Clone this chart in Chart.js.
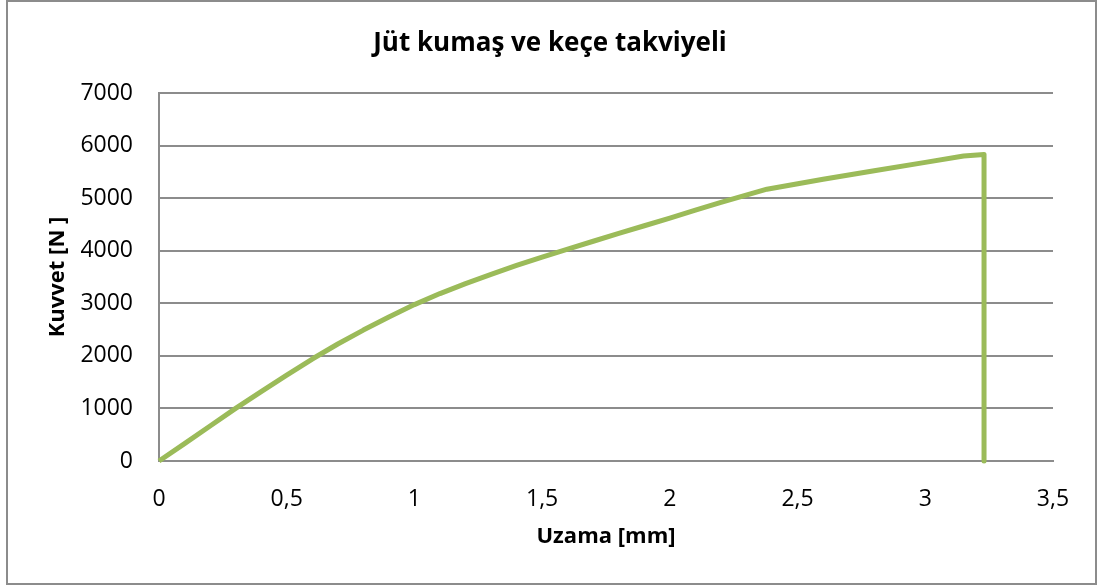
<!DOCTYPE html>
<html>
<head>
<meta charset="utf-8">
<script src="https://cdn.jsdelivr.net/npm/chart.js@4.4.1/dist/chart.umd.min.js"></script>
<style>
html,body{margin:0;padding:0;background:#fff;}
#wrap{position:absolute;left:0;top:0;width:1099px;height:587px;}
</style>
</head>
<body>
<div id="wrap"><canvas id="c" width="1099" height="587"></canvas></div>
<script>
const titleText = 'Jüt kumaş ve keçe takviyeli';
const xAxisTitle = 'Uzama [mm]';
const yAxisTitle = 'Kuvvet [N ]';
const elongation = [0, 0.1, 0.2, 0.3, 0.4, 0.5, 0.6, 0.7, 0.8, 0.9, 1.0, 1.1, 1.2, 1.3, 1.4, 1.5, 1.6, 1.7, 1.8, 1.9, 2.0, 2.1, 2.2, 2.38, 2.6, 2.8, 3.0, 3.15, 3.23, 3.23];
const force = [0, 330, 665, 1000, 1320, 1635, 1940, 2225, 2490, 2740, 2975, 3185, 3375, 3550, 3720, 3880, 4030, 4180, 4330, 4475, 4620, 4770, 4920, 5170, 5360, 5520, 5680, 5800, 5830, 0];
const xTicks = [0, 0.5, 1, 1.5, 2, 2.5, 3, 3.5];
const yTicks = [0, 1000, 2000, 3000, 4000, 5000, 6000, 7000];

const points = elongation.map((x, i) => ({x: x, y: force[i]}));
const gridColor = '#8c8c8c';
const FONT = "'Open Sans', sans-serif";

const borderPlugin = {
  id: 'outerBorder',
  beforeDraw(chart) {
    const ctx = chart.ctx;
    ctx.save();
    ctx.fillStyle = '#ffffff';
    ctx.fillRect(0, 0, chart.width, chart.height);
    ctx.strokeStyle = '#8c8c8c';
    ctx.lineWidth = 2;
    ctx.strokeRect(7, 1, 1089, 583);
    ctx.restore();
  }
};

new Chart(document.getElementById('c'), {
  type: 'line',
  data: {
    datasets: [{
      data: points,
      borderColor: '#9BBB59',
      borderWidth: 5,
      pointRadius: 0,
      tension: 0,
      fill: false,
      clip: false,
      borderJoinStyle: 'round'
    }]
  },
  options: {
    responsive: false,
    animation: false,
    devicePixelRatio: 1,
    layout: {padding: {left: 47, right: 46, top: 0, bottom: 10}},
    plugins: {
      legend: {display: false},
      tooltip: {enabled: false},
      title: {
        display: true,
        text: titleText,
        color: '#000',
        font: {family: FONT, size: 26, weight: 'bold', lineHeight: 1.2},
        padding: {top: 28.4, bottom: 33.4}
      }
    },
    scales: {
      x: {
        type: 'linear',
        min: 0, max: 3.5,
        afterBuildTicks(scale) { scale.ticks = xTicks.map(v => ({value: v})); },
        afterFit(scale) { scale.height = 116; },
        grid: {display: false, drawTicks: false},
        border: {display: true, color: gridColor, width: 2},
        ticks: {
          color: '#000',
          padding: 25,
          maxRotation: 0,
          font: {family: FONT, size: 23, lineHeight: 1.2},
          callback: v => String(v).replace('.', ',')
        },
        title: {
          display: true, text: xAxisTitle, color: '#000',
          font: {family: FONT, size: 22, weight: 'bold', lineHeight: 1.2},
          padding: {top: 0, bottom: 26.8}
        }
      },
      y: {
        type: 'linear',
        min: 0, max: 7000,
        afterBuildTicks(scale) { scale.ticks = yTicks.map(v => ({value: v})); },
        afterFit(scale) { scale.width = 112; },
        grid: {display: true, color: gridColor, lineWidth: 2, drawTicks: false},
        border: {display: true, color: gridColor, width: 2},
        ticks: {
          color: '#000',
          padding: 26,
          font: {family: FONT, size: 23, lineHeight: 1.2},
          callback: v => String(v)
        },
        title: {
          display: true, text: yAxisTitle, color: '#000',
          font: {family: FONT, size: 22, weight: 'bold', lineHeight: 1},
          padding: {top: 0, bottom: 0}
        }
      }
    }
  },
  plugins: [borderPlugin]
});
</script>
</body>
</html>
